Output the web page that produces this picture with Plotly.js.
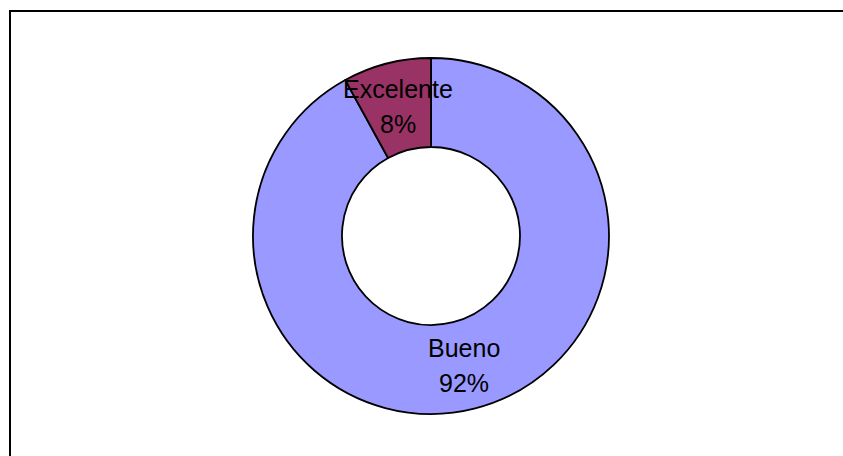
<!DOCTYPE html>
<html>
<head>
<meta charset="utf-8">
<script src="https://cdn.plot.ly/plotly-3.0.1.min.js"></script>
<style>
  html, body { margin: 0; padding: 0; background: #fff; overflow: hidden; }
  #wrap { position: relative; width: 843px; height: 456px; }
  #frame { position: absolute; left: 9px; top: 10px; width: 900px; height: 500px;
           border-left: 2px solid #000; border-top: 2px solid #000; pointer-events: none; }
  #chart { position: absolute; left: 0; top: 0; width: 843px; height: 456px; }
</style>
</head>
<body>
<div id="wrap">
  <div id="chart"></div>
  <div id="frame"></div>
</div>
<script>
const categories = ["Bueno", "Excelente"];
const values = [92, 8];
const colors = ["#9999FF", "#993366"];

const W = 843, H = 456;
const domX = [0.3001, 0.7224];
const domY = [0.0921, 0.8728];
const hole = 0.5;

const total = values.reduce((a, b) => a + b, 0);
const cx = (domX[0] + domX[1]) / 2 * W;
const cy = (1 - (domY[0] + domY[1]) / 2) * H;
const R = Math.min((domX[1] - domX[0]) * W, (domY[1] - domY[0]) * H) / 2;
const rMid = R * (1 + hole) / 2;

const annotations = [];
let acc = 0;
values.forEach((v, i) => {
  // slices run clockwise from 12 o'clock
  const mid = (acc + v / 2) / total * 2 * Math.PI;
  acc += v;
  const px = cx + rMid * Math.sin(mid);
  const py = cy - rMid * Math.cos(mid);
  const pct = Math.round(v / total * 100) + "%";
  const common = {xref: "paper", yref: "paper", x: px / W, y: 1 - py / H,
    showarrow: false, xanchor: "center", yanchor: "middle",
    font: {family: "Liberation Sans, Arial, sans-serif", size: 25, color: "#000"}};
  annotations.push(Object.assign({}, common, {text: categories[i], yshift: 17.5}));
  annotations.push(Object.assign({}, common, {text: pct, yshift: -17.5}));
});

const data = [{
  type: "pie",
  labels: categories,
  values: values,
  hole: hole,
  sort: false,
  direction: "clockwise",
  rotation: 0,
  marker: {colors: colors, line: {color: "#000", width: 1.8}},
  textinfo: "none",
  hoverinfo: "none",
  domain: {x: domX, y: domY},
  showlegend: false
}];

const layout = {
  width: W, height: H,
  margin: {l: 0, r: 0, t: 0, b: 0},
  paper_bgcolor: "#fff",
  plot_bgcolor: "#fff",
  showlegend: false,
  annotations: annotations
};

Plotly.newPlot("chart", data, layout, {staticPlot: true, displayModeBar: false});
</script>
</body>
</html>
